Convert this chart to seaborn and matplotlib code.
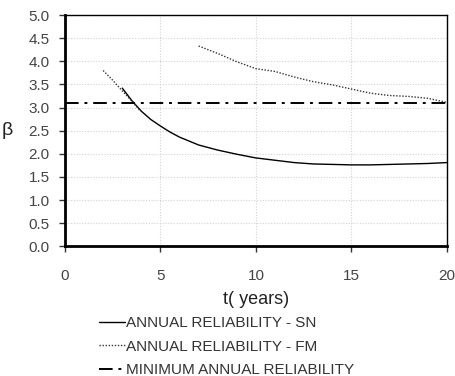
import numpy as np
import pandas as pd
import matplotlib
matplotlib.use("Agg")
import matplotlib.pyplot as plt
from matplotlib.lines import Line2D
import seaborn as sns

# Annual reliability index (beta) over service time
t_sn = [3.0, 3.5, 4.0, 4.5, 5.0, 5.5, 6.0, 7.0, 8.0, 9.0, 10.0, 11.0, 12.0,
        13.0, 14.0, 15.0, 16.0, 17.0, 18.0, 19.0, 20.0]
beta_sn = [3.42, 3.15, 2.92, 2.74, 2.60, 2.47, 2.36, 2.19, 2.08, 1.99, 1.91,
           1.86, 1.81, 1.78, 1.77, 1.76, 1.76, 1.77, 1.78, 1.79, 1.81]

t_fm_a = [2.0, 2.5, 3.0, 3.5, 3.9]
beta_fm_a = [3.80, 3.59, 3.36, 3.14, 2.95]
t_fm_b = [7.0, 8.0, 9.0, 10.0, 11.0, 12.0, 13.0, 14.0, 15.0, 16.0, 17.0, 18.0, 19.0, 20.0]
beta_fm_b = [4.33, 4.17, 3.99, 3.84, 3.78, 3.66, 3.56, 3.49, 3.40, 3.31, 3.26, 3.24, 3.20, 3.11]

beta_min = 3.10

x_ticks = [0, 5, 10, 15, 20]
y_ticks = [0.0, 0.5, 1.0, 1.5, 2.0, 2.5, 3.0, 3.5, 4.0, 4.5, 5.0]
legend_labels = ["ANNUAL RELIABILITY - SN", "ANNUAL RELIABILITY - FM",
                 "MINIMUM ANNUAL RELIABILITY"]

sns.set_theme(style="white")
plt.rcParams["font.family"] = ["Liberation Sans", "DejaVu Sans"]

df_sn = pd.DataFrame({"t": t_sn, "beta": beta_sn})
df_fm = pd.DataFrame({
    "t": t_fm_a + t_fm_b,
    "beta": beta_fm_a + beta_fm_b,
    "seg": [0] * len(t_fm_a) + [1] * len(t_fm_b),
})

sn_style = dict(color="black", lw=1.0, linestyle="-")
fm_style = dict(color="#333333", lw=1.0, linestyle=(0, (1, 1.2)))
min_style = dict(color="black", lw=1.4, linestyle=(0, (7, 3, 1.5, 3)))

fig = plt.figure(figsize=(4.56, 3.76), dpi=100)
ax = fig.add_axes([0.1425, 0.345, 0.8375, 0.615])

sns.lineplot(data=df_sn, x="t", y="beta", ax=ax, estimator=None, **sn_style)
sns.lineplot(data=df_fm, x="t", y="beta", units="seg", ax=ax, estimator=None,
             **fm_style)
ax.axhline(beta_min, **min_style)

ax.set_xlim(0, 20)
ax.set_ylim(0, 5)
ax.set_xticks(x_ticks)
ax.set_yticks(y_ticks)
ax.set_xticklabels([str(v) for v in x_ticks])
ax.set_yticklabels([f"{v:.1f}" for v in y_ticks])
ax.grid(True, color="#d2d2d2", linestyle=(0, (1, 1.5)), lw=0.8)
ax.tick_params(axis="both", labelsize=11, colors="#333333", direction="out",
               length=4, width=1, left=True, bottom=True)
ax.tick_params(axis="y", pad=7)
ax.tick_params(axis="x", pad=12)
ax.tick_params(axis="both", labelcolor="#444444")

for side in ["left", "bottom"]:
    ax.spines[side].set_linewidth(2.0)
    ax.spines[side].set_color("black")
for side in ["top", "right"]:
    ax.spines[side].set_linewidth(1.0)
    ax.spines[side].set_color("black")

ax.set_xlabel("t( years)", fontsize=13, color="#222222", labelpad=6)
ax.set_ylabel("β", fontsize=14, color="#222222", rotation=0, va="center")
ax.yaxis.set_label_coords(-0.15, 0.5)

handles = [Line2D([], [], **sn_style), Line2D([], [], **fm_style),
           Line2D([], [], **min_style)]
fig.legend(handles, legend_labels, loc="upper left",
           bbox_to_anchor=(0.218, 0.159), frameon=False, fontsize=11,
           handlelength=1.65, handletextpad=0.12, labelspacing=0.62,
           borderaxespad=0, borderpad=0, labelcolor="#333333")

fig.savefig("out.png", dpi=100)
